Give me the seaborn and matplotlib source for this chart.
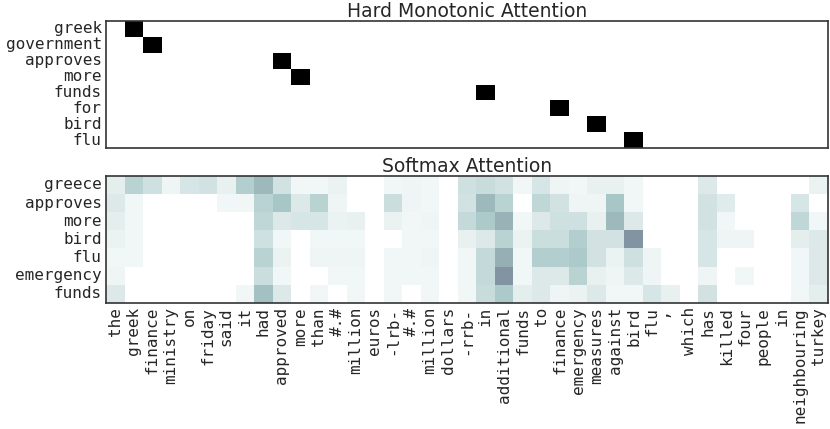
import numpy as np
import pandas as pd
import seaborn as sns
import matplotlib.pyplot as plt

# source sentence (columns)
source_words = ['the', 'greek', 'finance', 'ministry', 'on', 'friday', 'said', 'it', 'had',
                'approved', 'more', 'than', '#.#', 'million', 'euros', '-lrb-', '#.#', 'million',
                'dollars', '-rrb-', 'in', 'additional', 'funds', 'to', 'finance', 'emergency',
                'measures', 'against', 'bird', 'flu', '\u2019', 'which', 'has', 'killed', 'four',
                'people', 'in', 'neighbouring', 'turkey']

# hard monotonic attention: output word -> attended source column
hard_words = ['greek', 'government', 'approves', 'more', 'funds', 'for', 'bird', 'flu']
hard_cols = [1, 2, 9, 10, 20, 24, 26, 28]

# softmax attention weights, one row per output word
soft_words = ['greece', 'approves', 'more', 'bird', 'flu', 'emergency', 'funds']
greece = [0.08, 0.2, 0.14, 0.05, 0.12, 0.13, 0.07, 0.22, 0.3, 0.13,
          0.04, 0.04, 0.06, 0, 0, 0.04, 0.05, 0.04, 0, 0.14,
          0.16, 0.13, 0.04, 0.12, 0.05, 0.04, 0.07, 0.07, 0.04, 0,
          0, 0, 0.1, 0, 0, 0, 0, 0, 0.06]
approves = [0.1, 0.04, 0, 0, 0, 0, 0.04, 0.04, 0.2, 0.25,
            0.1, 0.2, 0.05, 0, 0, 0.15, 0.05, 0.04, 0, 0.13,
            0.3, 0.2, 0, 0.18, 0.13, 0.05, 0.05, 0.25, 0.04, 0,
            0, 0, 0.13, 0.09, 0, 0, 0, 0.12, 0]
more = [0.08, 0.04, 0, 0, 0, 0, 0, 0, 0.18, 0.1,
        0.12, 0.12, 0.06, 0.07, 0, 0.06, 0.04, 0.05, 0, 0.17,
        0.24, 0.32, 0.04, 0.1, 0.14, 0.14, 0.07, 0.3, 0.1, 0,
        0, 0, 0.13, 0.04, 0, 0, 0, 0.18, 0.04]
bird = [0.06, 0.04, 0, 0, 0, 0, 0, 0, 0.14, 0.04,
        0, 0.04, 0.04, 0.04, 0, 0, 0.04, 0.04, 0, 0.07,
        0.1, 0.2, 0.06, 0.15, 0.15, 0.22, 0.13, 0.13, 0.42, 0,
        0, 0, 0.12, 0.05, 0.05, 0, 0, 0.08, 0.1]
flu = [0.04, 0.04, 0, 0, 0, 0, 0, 0, 0.2, 0.06,
       0, 0.05, 0.05, 0.05, 0, 0.04, 0.04, 0.05, 0, 0.04,
       0.17, 0.33, 0.04, 0.22, 0.22, 0.24, 0.13, 0.06, 0.14, 0.05,
       0, 0, 0.12, 0, 0, 0, 0, 0.04, 0.1]
emergency = [0.05, 0, 0, 0, 0, 0, 0, 0, 0.15, 0.04,
             0, 0, 0.04, 0.04, 0, 0.04, 0.04, 0.04, 0, 0.04,
             0.17, 0.42, 0.04, 0.1, 0.1, 0.2, 0.07, 0.05, 0.1, 0.05,
             0, 0, 0.05, 0, 0.04, 0, 0, 0.04, 0.1]
funds = [0.1, 0, 0, 0, 0, 0, 0, 0.04, 0.27, 0.1,
         0, 0.04, 0, 0.04, 0, 0.04, 0, 0.04, 0, 0.04,
         0.16, 0.24, 0.08, 0.1, 0.05, 0.06, 0.1, 0.04, 0.04, 0.12,
         0.07, 0, 0.13, 0, 0, 0, 0, 0.04, 0.08]

hard = np.zeros((len(hard_words), len(source_words)))
for i, c in enumerate(hard_cols):
    hard[i, c] = 1.0
soft = np.array([greece, approves, more, bird, flu, emergency, funds])

sns.set_style("white")
mono = 'DejaVu Sans Mono'

fig = plt.figure(figsize=(8.3, 4.29), dpi=100)
ax1 = fig.add_axes([0.1277, 0.655, 0.8699, 0.296])
ax2 = fig.add_axes([0.1277, 0.294, 0.8699, 0.296])

sns.heatmap(hard, cmap='bone_r', vmin=0, vmax=1, cbar=False, ax=ax1,
            xticklabels=False, yticklabels=hard_words)
sns.heatmap(soft, cmap='bone_r', vmin=0, vmax=1, cbar=False, ax=ax2,
            xticklabels=source_words, yticklabels=soft_words)

ax1.set_title('Hard Monotonic Attention', fontsize=13.5, pad=3)
ax2.set_title('Softmax Attention', fontsize=13.5, pad=3)

for ax in (ax1, ax2):
    for s in ax.spines.values():
        s.set_visible(True)
        s.set_color('#333333')
        s.set_linewidth(1.2)
    ax.tick_params(length=0, pad=3)
    for t in ax.get_yticklabels():
        t.set_family(mono)
        t.set_fontsize(11.5)
        t.set_rotation(0)
for t in ax2.get_xticklabels():
    t.set_family(mono)
    t.set_fontsize(11.5)
    t.set_rotation(90)

fig.savefig('out.png', dpi=100)
